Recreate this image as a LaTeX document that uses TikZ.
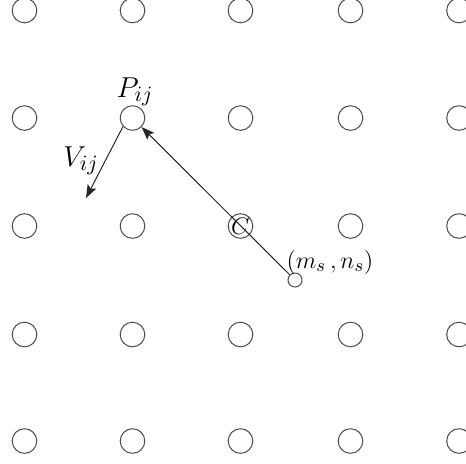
\documentclass[tikz,border=0pt]{standalone}
\usepackage{amsmath,amssymb}
\usepackage{tikz}
\usetikzlibrary{arrows.meta,positioning,calc}

\begin{document}
\begin{tikzpicture}[
    x=0.5pt, y=-0.5pt,
    dot/.style={circle, draw=black!70, line width=0.5pt, minimum size=12.3pt, inner sep=0pt},
    small/.style={circle, draw=black!70, line width=0.5pt, minimum size=7pt, inner sep=0pt},
    lbl/.style={font=\fontsize{15}{17}\selectfont, inner sep=0pt},
    arr/.style={-{Stealth[length=6.5pt, width=4.8pt, inset=1.2pt]}, line width=0.5pt, black!85}
]
\useasboundingbox (0,0) rectangle (466,463);
% grid of points
\foreach \i/\x in {1/24.5,2/132.5,3/240.5,4/350.5,5/459}
  \foreach \j/\y in {1/10.5,2/118,3/226,4/334.5,5/441}
    \node[dot] (c-\i-\j) at (\x,\y) {};

\node[small] (s) at (295,280) {};
\node[lbl, font=\fontsize{12}{14}\selectfont] (cc) at (c-3-3) {$C$};
\node[lbl] (plbl) at (135,92) {$P_{ij}$};
\node[lbl] (vlbl) at (81,161) {$V_{ij}$};
\node[lbl, font=\fontsize{12.5}{14}\selectfont] (slbl) at (330,262) {$(m_s\,,n_s)$};
\coordinate (vend) at (86,198);

\draw[arr] (s) -- (c-2-2);
\draw[arr] (c-2-2.222) -- (vend);
\end{tikzpicture}
\end{document}
